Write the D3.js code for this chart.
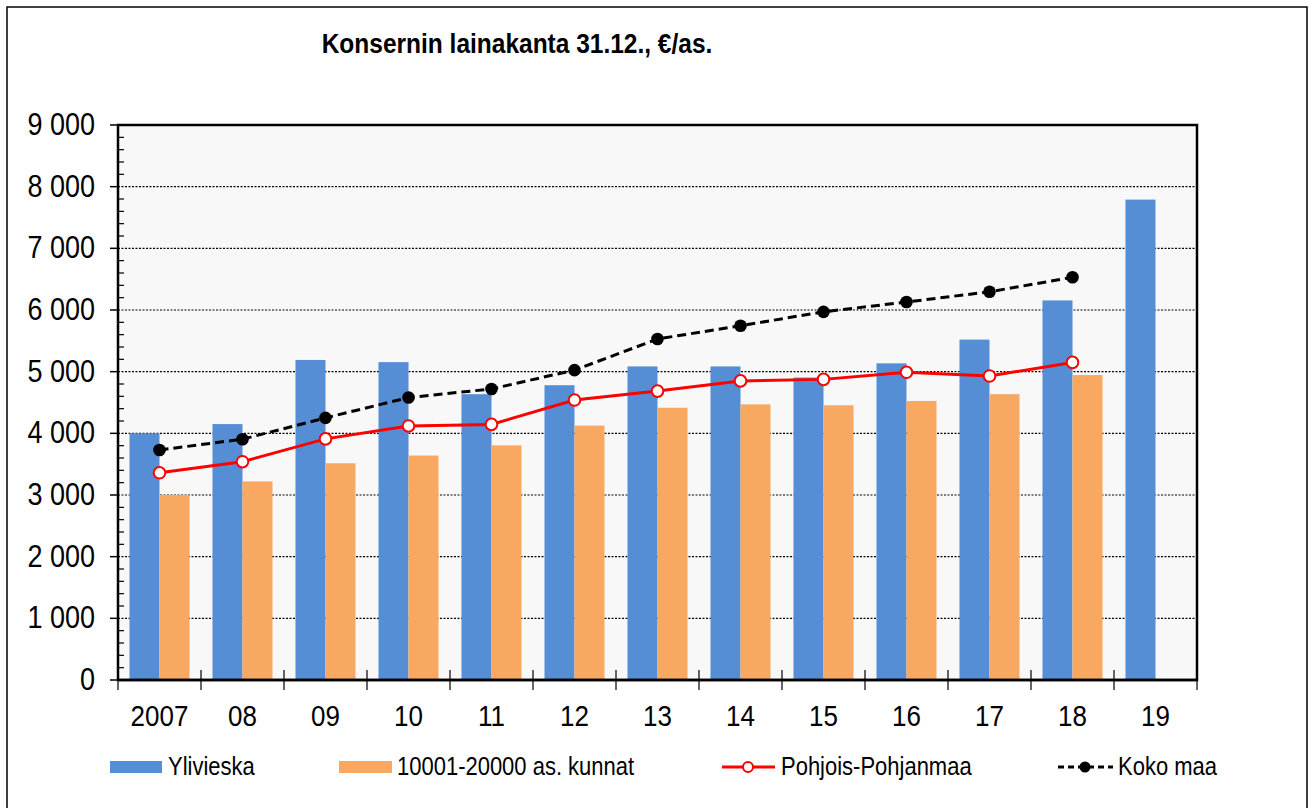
<!DOCTYPE html>
<html>
<head>
<meta charset="utf-8">
<script src="https://cdn.jsdelivr.net/npm/d3@7"></script>
<style>
  body { margin: 0; background: #fff; }
  text { font-family: "Liberation Sans", Arial, sans-serif; fill: #000; }
</style>
</head>
<body>
<div id="chart"></div>
<script>
// values
var years = ["2007", "08", "09", "10", "11", "12", "13", "14", "15", "16", "17", "18", "19"];
var ylivieska = [4000, 4150, 5190, 5155, 4635, 4780, 5085, 5085, 4905, 5135, 5520, 6155, 7790];
var kunnat = [3000, 3220, 3515, 3640, 3805, 4125, 4415, 4470, 4455, 4525, 4635, 4945, null];
var pohjois = [3360, 3540, 3910, 4120, 4145, 4540, 4685, 4850, 4875, 4990, 4930, 5150, null];
var kokoMaa = [3730, 3905, 4250, 4580, 4720, 5025, 5530, 5745, 5970, 6130, 6295, 6530, null];
var yTicks = [0, 1000, 2000, 3000, 4000, 5000, 6000, 7000, 8000, 9000];
var seriesNames = ["Ylivieska", "10001-20000 as. kunnat", "Pohjois-Pohjanmaa", "Koko maa"];

var W = 1314, H = 808;
var margin = { top: 125, right: 117, bottom: 128, left: 118 };
var blue = "#558ed5", orange = "#f9a862";
var stretch = 1.15; // text in the source is a bit taller than wide

var svg = d3.select("#chart").append("svg")
    .attr("width", W)
    .attr("height", H);

// outer frame
svg.append("rect")
    .attr("x", 7).attr("y", 7)
    .attr("width", W - 14).attr("height", H)
    .attr("fill", "none").attr("stroke", "#000").attr("stroke-width", 1.5);

function tText(sel, x, y) {
    return sel.attr("transform", "translate(" + x + "," + y + ") scale(1," + stretch + ")");
}

tText(svg.append("text"), 517, 53)
    .attr("text-anchor", "middle")
    .style("font-size", "24.5px")
    .style("font-weight", "bold")
    .text("Konsernin lainakanta 31.12., €/as.");

var x0 = margin.left, x1 = W - margin.right;
var yTop = margin.top, yBot = H - margin.bottom;

var x = d3.scaleBand().domain(years).range([x0, x1]).padding(0);
var xs = d3.scaleBand().domain(["a", "b"]).range([0, x.bandwidth()]).paddingOuter(0.383).paddingInner(0);
var y = d3.scaleLinear().domain([0, 9000]).range([yBot, yTop]);

// plot background
svg.append("rect")
    .attr("x", x0).attr("y", yTop)
    .attr("width", x1 - x0).attr("height", yBot - yTop)
    .attr("fill", "#f8f8f8");

// gridlines
svg.append("g").selectAll("line")
    .data(yTicks.filter(function(d) { return d > 0 && d < 9000; }))
    .enter().append("line")
    .attr("x1", x0).attr("x2", x1)
    .attr("y1", function(d) { return y(d); })
    .attr("y2", function(d) { return y(d); })
    .attr("stroke", "#000")
    .attr("stroke-width", 1.2)
    .attr("stroke-dasharray", "2,1.5");

// bars
var bars = svg.append("g");
bars.selectAll(".b1")
    .data(ylivieska)
    .enter().append("rect")
    .attr("x", function(d, i) { return x(years[i]) + xs("a"); })
    .attr("y", function(d) { return y(d); })
    .attr("width", xs.bandwidth())
    .attr("height", function(d) { return yBot - y(d); })
    .attr("fill", blue);

bars.selectAll(".b2")
    .data(kunnat.map(function(v, i) { return { v: v, i: i }; }).filter(function(d) { return d.v != null; }))
    .enter().append("rect")
    .attr("x", function(d) { return x(years[d.i]) + xs("b"); })
    .attr("y", function(d) { return y(d.v); })
    .attr("width", xs.bandwidth())
    .attr("height", function(d) { return yBot - y(d.v); })
    .attr("fill", orange);

// plot frame
svg.append("rect")
    .attr("x", x0).attr("y", yTop)
    .attr("width", x1 - x0).attr("height", yBot - yTop)
    .attr("fill", "none").attr("stroke", "#000").attr("stroke-width", 2.5);

// y axis: major ticks outside, minor ticks inside
var yAxis = svg.append("g");
yAxis.selectAll(".major")
    .data(yTicks)
    .enter().append("line")
    .attr("x1", x0 - 8).attr("x2", x0)
    .attr("y1", function(d) { return y(d); })
    .attr("y2", function(d) { return y(d); })
    .attr("stroke", "#000").attr("stroke-width", 1.5);

yAxis.selectAll(".minor")
    .data(d3.range(0, 9000, 200).filter(function(d) { return d % 1000 != 0; }))
    .enter().append("line")
    .attr("x1", x0).attr("x2", x0 + 6)
    .attr("y1", function(d) { return y(d); })
    .attr("y2", function(d) { return y(d); })
    .attr("stroke", "#000").attr("stroke-width", 1.2);

var fmt = function(d) { return d3.format(",")(d).replace(/,/g, " "); };
yAxis.selectAll("text")
    .data(yTicks)
    .enter().append("text")
    .each(function(d) { tText(d3.select(this), 95, y(d) + 10); })
    .attr("text-anchor", "end")
    .style("font-size", "27px")
    .text(fmt);

// x axis
var xAxis = svg.append("g");
xAxis.append("line")
    .attr("x1", x0).attr("x2", x1)
    .attr("y1", yBot).attr("y2", yBot)
    .attr("stroke", "#000").attr("stroke-width", 2.5);

var bounds = years.map(function(d) { return x(d); }).concat([x1]);
xAxis.selectAll(".tick")
    .data(bounds)
    .enter().append("line")
    .attr("x1", function(d) { return d; })
    .attr("x2", function(d) { return d; })
    .attr("y1", function(d, i) { return (i == 0 || i == bounds.length - 1) ? yBot : yBot - 10; })
    .attr("y2", yBot + 10)
    .attr("stroke", "#000").attr("stroke-width", 1.2);

xAxis.selectAll("text")
    .data(years)
    .enter().append("text")
    .each(function(d) { tText(d3.select(this), x(d) + x.bandwidth() / 2, 726); })
    .attr("text-anchor", "middle")
    .style("font-size", "26px")
    .text(function(d) { return d; });

// lines
function cx(i) { return x(years[i]) + x.bandwidth() / 2; }
var line = d3.line()
    .defined(function(d) { return d != null; })
    .x(function(d, i) { return cx(i); })
    .y(function(d) { return y(d); });

svg.append("path")
    .datum(kokoMaa)
    .attr("d", line)
    .attr("fill", "none")
    .attr("stroke", "#000")
    .attr("stroke-width", 3)
    .attr("stroke-dasharray", "9,5");

svg.append("g").selectAll("circle")
    .data(kokoMaa.map(function(v, i) { return { v: v, i: i }; }).filter(function(d) { return d.v != null; }))
    .enter().append("circle")
    .attr("cx", function(d) { return cx(d.i); })
    .attr("cy", function(d) { return y(d.v); })
    .attr("r", 6.3)
    .attr("fill", "#000");

svg.append("path")
    .datum(pohjois)
    .attr("d", line)
    .attr("fill", "none")
    .attr("stroke", "#ff0000")
    .attr("stroke-width", 3);

svg.append("g").selectAll("circle")
    .data(pohjois.map(function(v, i) { return { v: v, i: i }; }).filter(function(d) { return d.v != null; }))
    .enter().append("circle")
    .attr("cx", function(d) { return cx(d.i); })
    .attr("cy", function(d) { return y(d.v); })
    .attr("r", 5.8)
    .attr("fill", "#fff")
    .attr("stroke", "#ff0000")
    .attr("stroke-width", 2);

// legend
var legY = 767;
var legend = svg.append("g");

legend.append("rect").attr("x", 110).attr("y", legY - 6).attr("width", 52).attr("height", 12).attr("fill", blue);
legend.append("rect").attr("x", 339).attr("y", legY - 6).attr("width", 53).attr("height", 12).attr("fill", orange);

legend.append("line").attr("x1", 722).attr("x2", 775).attr("y1", legY).attr("y2", legY)
    .attr("stroke", "#ff0000").attr("stroke-width", 3);
legend.append("circle").attr("cx", 748).attr("cy", legY).attr("r", 5)
    .attr("fill", "#fff").attr("stroke", "#ff0000").attr("stroke-width", 2);

legend.append("line").attr("x1", 1058).attr("x2", 1113).attr("y1", legY).attr("y2", legY)
    .attr("stroke", "#000").attr("stroke-width", 3).attr("stroke-dasharray", "6,4");
legend.append("circle").attr("cx", 1085).attr("cy", legY).attr("r", 5.5).attr("fill", "#000");

var legX = [168, 397, 781, 1118];
legend.selectAll("text")
    .data(seriesNames)
    .enter().append("text")
    .each(function(d, i) { tText(d3.select(this), legX[i], legY + 8); })
    .style("font-size", "22px")
    .text(function(d) { return d; });
</script>
</body>
</html>
